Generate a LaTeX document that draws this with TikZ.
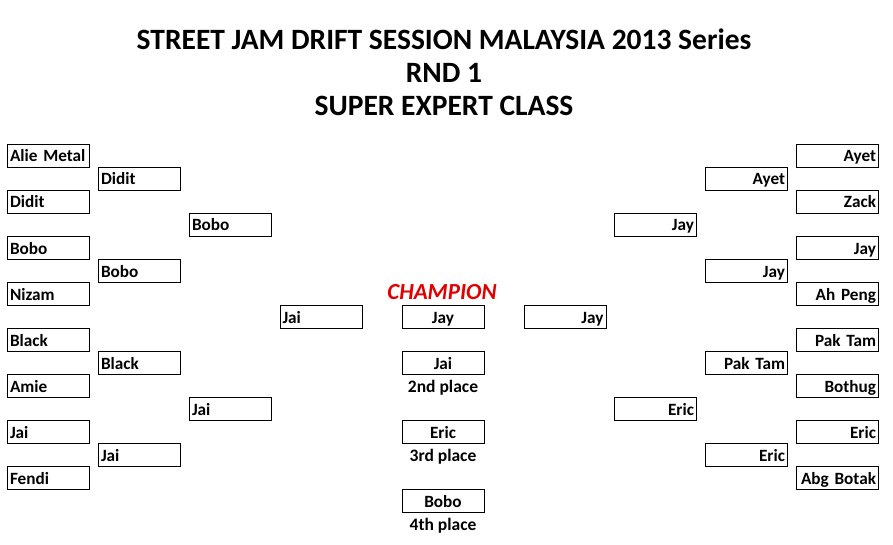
\documentclass[tikz,border=0pt]{standalone}
\usepackage{fontspec}
\setmainfont{Carlito}
\begin{document}
\begin{tikzpicture}[x=1pt,y=-1pt,
  box/.style={draw, line width=0.8pt, minimum height=23pt, inner xsep=2.5pt, inner ysep=0pt,
    text width=77pt, text height=15pt, text depth=2pt,
    font=\fontsize{17.2}{20}\selectfont\bfseries},
  lbox/.style={box, align=left},
  rbox/.style={box, align=right},
  cbox/.style={box, align=center},
  title/.style={anchor=base, inner sep=0pt, font=\fontsize{29.5}{34}\selectfont\bfseries},
  place/.style={anchor=base, inner sep=0pt, font=\fontsize{17.5}{20}\selectfont\bfseries},
  champ/.style={anchor=base, inner sep=0pt, text={rgb,255:red,224;green,0;blue,0},
    font=\fontsize{23}{27}\selectfont\bfseries\itshape}]
\useasboundingbox (0,0) rectangle (893,545);
% titles
\node[title] (t1) at (444,50) {STREET JAM DRIFT SESSION MALAYSIA 2013 Series};
\node[title] (t2) at (444,83) {RND 1};
\node[title] (t3) at (444,116) {SUPER EXPERT CLASS};
% left round 1
\node[lbox] (l11) at (48.5,155.5) {\mbox{Alie Metal}};
\node[lbox] (l12) at (48.5,201.5) {Didit};
\node[lbox] (l13) at (48.5,247.5) {Bobo};
\node[lbox] (l14) at (48.5,293.5) {Nizam};
\node[lbox] (l15) at (48.5,339.5) {Black};
\node[lbox] (l16) at (48.5,385.5) {Amie};
\node[lbox] (l17) at (48.5,431.5) {Jai};
\node[lbox] (l18) at (48.5,477.5) {Fendi};
% left round 2
\node[lbox] (l21) at (139.5,178.5) {Didit};
\node[lbox] (l22) at (139.5,270.5) {Bobo};
\node[lbox] (l23) at (139.5,362.5) {Black};
\node[lbox] (l24) at (139.5,454.5) {Jai};
% left round 3
\node[lbox] (l31) at (230.5,224.5) {Bobo};
\node[lbox] (l32) at (230.5,408.5) {Jai};
% left final
\node[lbox] (l41) at (321,316.5) {Jai};
% centre
\node[champ] (champ) at (442,299) {CHAMPION};
\node[cbox] (c1) at (443,316.5) {Jay};
\node[cbox] (c2) at (443,362.5) {Jai};
\node[place] (p2) at (443,392) {2nd place};
\node[cbox] (c3) at (443,431.5) {Eric};
\node[place] (p3) at (443,461) {3rd place};
\node[cbox] (c4) at (443,500.5) {Bobo};
\node[place] (p4) at (443,530) {4th place};
% right final
\node[rbox] (r41) at (565,316.5) {Jay};
% right round 3
\node[rbox] (r31) at (655.5,224.5) {Jay};
\node[rbox] (r32) at (655.5,408.5) {Eric};
% right round 2
\node[rbox] (r21) at (746.5,178.5) {Ayet};
\node[rbox] (r22) at (746.5,270.5) {Jay};
\node[rbox] (r23) at (746.5,362.5) {\mbox{Pak Tam}};
\node[rbox] (r24) at (746.5,454.5) {Eric};
% right round 1
\node[rbox] (r11) at (837.5,155.5) {Ayet};
\node[rbox] (r12) at (837.5,201.5) {Zack};
\node[rbox] (r13) at (837.5,247.5) {Jay};
\node[rbox] (r14) at (837.5,293.5) {\mbox{Ah Peng}};
\node[rbox] (r15) at (837.5,339.5) {\mbox{Pak Tam}};
\node[rbox] (r16) at (837.5,385.5) {Bothug};
\node[rbox] (r17) at (837.5,431.5) {Eric};
\node[rbox] (r18) at (837.5,477.5) {\mbox{Abg Botak}};
\end{tikzpicture}
\end{document}
